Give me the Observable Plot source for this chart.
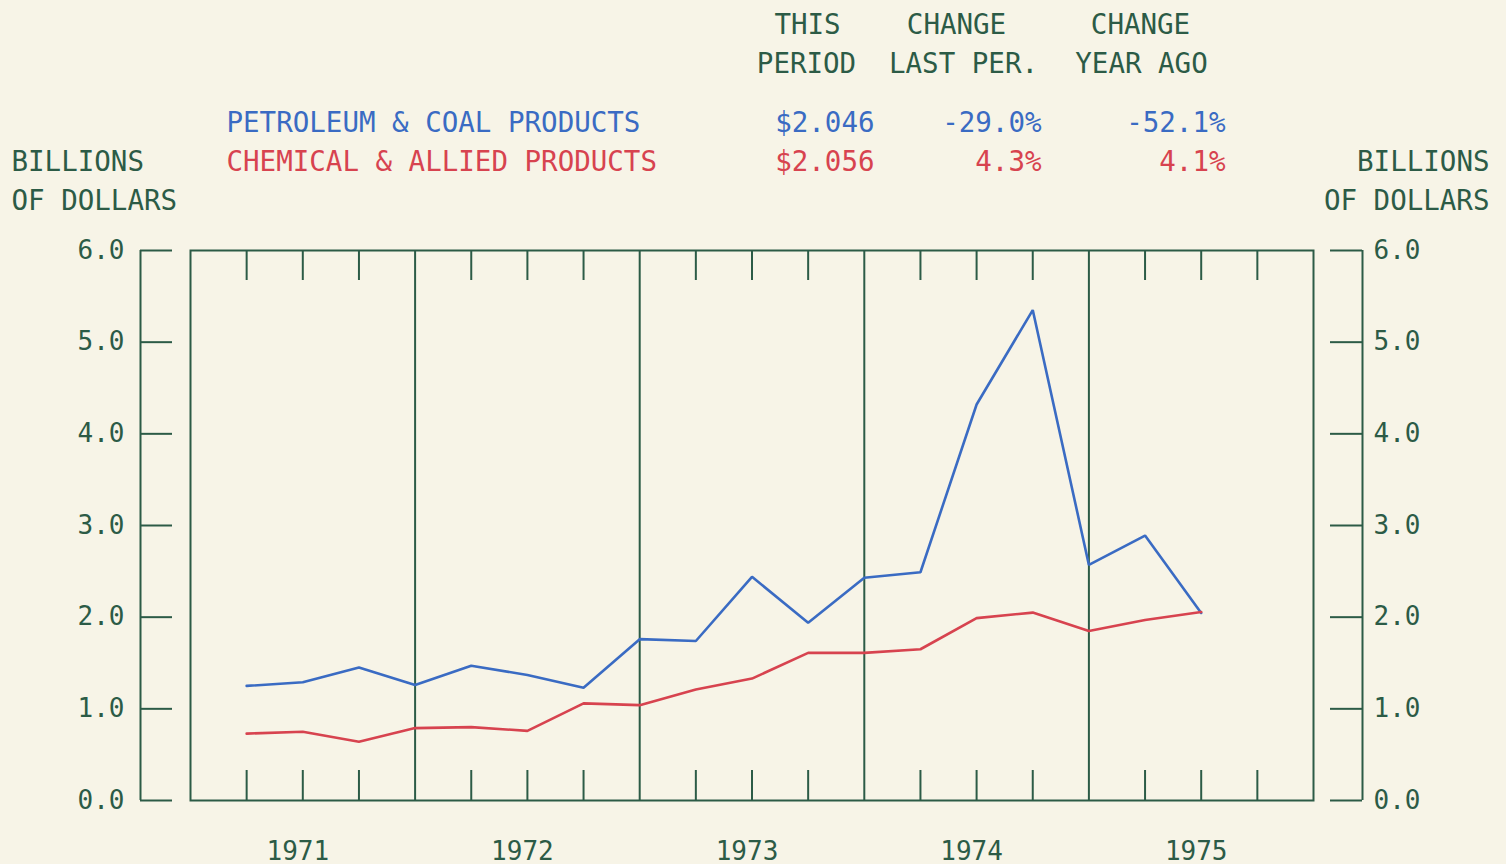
<!DOCTYPE html>
<html>
<head>
<meta charset="utf-8">
<script src="https://cdn.jsdelivr.net/npm/d3@7"></script>
<script src="https://cdn.jsdelivr.net/npm/@observablehq/plot@0.6"></script>
<style>
  html, body { margin: 0; padding: 0; background: #f7f4e7; }
  #chart { width: 1506px; height: 864px; }
</style>
</head>
<body>
<div id="chart"></div>
<script>
// ---- data ----
const quarters = ["1971 Q1","1971 Q2","1971 Q3","1971 Q4","1972 Q1","1972 Q2","1972 Q3","1972 Q4",
                  "1973 Q1","1973 Q2","1973 Q3","1973 Q4","1974 Q1","1974 Q2","1974 Q3","1974 Q4",
                  "1975 Q1","1975 Q2"];
const petroleum = [1.25, 1.29, 1.45, 1.26, 1.47, 1.37, 1.23, 1.76, 1.74, 2.44, 1.94, 2.43, 2.49, 4.32, 5.35, 2.57, 2.89, 2.046];
const chemical  = [0.73, 0.75, 0.64, 0.79, 0.80, 0.76, 1.06, 1.04, 1.21, 1.33, 1.61, 1.61, 1.65, 1.99, 2.05, 1.85, 1.97, 2.056];
const seriesNames = ["PETROLEUM & COAL PRODUCTS", "CHEMICAL & ALLIED PRODUCTS"];
const thisPeriod = ["$2.046", "$2.056"];
const changeLastPer = ["-29.0%", "4.3%"];
const changeYearAgo = ["-52.1%", "4.1%"];
const colHeadTop = ["THIS", "CHANGE", "CHANGE"];
const colHeadBottom = ["PERIOD", "LAST PER.", "YEAR AGO"];
const years = [1971, 1972, 1973, 1974, 1975];
const yTicks = [0, 1, 2, 3, 4, 5, 6];
const unitLabel = ["BILLIONS", "OF DOLLARS"];

// ---- styling ----
const GREEN = "#2c5b46";
const BLUE = "#3a6bc3";
const RED = "#d7434f";
const BG = "#f7f4e7";
const FONT = "'DejaVu Sans Mono', 'Liberation Mono', monospace";
const FS = 27.5;

// quarter-end position (end of quarter q of year y)
const qpos = s => { const [y, q] = s.split(" Q"); return +y + (+q) / 4; };
const rows = [];
quarters.forEach((q, i) => {
  rows.push({t: qpos(q), v: petroleum[i], s: seriesNames[0]});
  rows.push({t: qpos(q), v: chemical[i], s: seriesNames[1]});
});
const yearBounds = years.slice(1);
const quarterTicks = years.flatMap(y => [y + 0.25, y + 0.5, y + 0.75]);
const yearMids = years.map(y => y + 0.5);
const xDomain = [years[0], years[years.length - 1] + 1];

// frame top-left is at (190, 250)
const L = 190, T = 250;
const txt = (data, opts) => Plot.text(data, {frameAnchor: "top-left", text: d => d, lineAnchor: "middle",
  fontSize: FS, ...opts});

const plot = Plot.plot({
  width: 1506, height: 864,
  marginLeft: 190, marginRight: 193, marginTop: 250, marginBottom: 64,
  style: {background: BG, fontFamily: FONT, color: GREEN, overflow: "visible"},
  x: {domain: xDomain},
  y: {domain: [0, 6]},
  marks: [
    Plot.frame({stroke: GREEN, strokeWidth: 2}),
    Plot.ruleX(yearBounds, {x: d => d, stroke: GREEN, strokeWidth: 2}),
    Plot.ruleX(quarterTicks, {x: d => d, stroke: GREEN, strokeWidth: 2, insetBottom: 520}),
    Plot.ruleX(quarterTicks, {x: d => d, stroke: GREEN, strokeWidth: 2, insetTop: 520}),
    // left outer axis
    Plot.ruleX([xDomain[0]], {x: d => d, dx: -50, stroke: GREEN, strokeWidth: 2}),
    Plot.ruleY(yTicks, {y: d => d, dx: -50, insetRight: 1091, stroke: GREEN, strokeWidth: 2}),
    // right outer axis
    Plot.ruleX([xDomain[1]], {x: d => d, dx: 49, stroke: GREEN, strokeWidth: 2}),
    Plot.ruleY(yTicks, {y: d => d, dx: 49, insetLeft: 1091, stroke: GREEN, strokeWidth: 2}),
    Plot.axisY({anchor: "left", ticks: yTicks, tickSize: 0, tickPadding: 66, tickFormat: d3.format(".1f"),
      label: null, fontSize: 26, fill: GREEN}),
    Plot.axisY({anchor: "right", ticks: yTicks, tickSize: 0, tickPadding: 60, tickFormat: d3.format(".1f"),
      label: null, fontSize: 26, fill: GREEN}),
    Plot.axisX({anchor: "bottom", ticks: yearMids, tickSize: 0, tickPadding: 41, dx: -5,
      tickFormat: d => String(Math.floor(d)), label: null, fontSize: 26, fill: GREEN}),
    // data lines
    Plot.line(rows, {x: "t", y: "v", z: "s", stroke: d => d.s === seriesNames[0] ? BLUE : RED,
      strokeWidth: 2.6, strokeLinejoin: "miter"}),
    // header: unit labels
    txt([unitLabel[0]], {dx: 11 - L, dy: 162 - T, textAnchor: "start", fill: GREEN}),
    txt([unitLabel[1]], {dx: 11 - L, dy: 201 - T, textAnchor: "start", fill: GREEN}),
    txt([unitLabel[0]], {dx: 1489 - L, dy: 162 - T, textAnchor: "end", fill: GREEN}),
    txt([unitLabel[1]], {dx: 1489 - L, dy: 201 - T, textAnchor: "end", fill: GREEN}),
    // column heads
    txt([colHeadTop[0]], {dx: 807 - L, dy: 25 - T, textAnchor: "middle", fill: GREEN}),
    txt([colHeadBottom[0]], {dx: 806 - L, dy: 64 - T, textAnchor: "middle", fill: GREEN}),
    txt([colHeadTop[1]], {dx: 956 - L, dy: 25 - T, textAnchor: "middle", fill: GREEN}),
    txt([colHeadBottom[1]], {dx: 963 - L, dy: 64 - T, textAnchor: "middle", fill: GREEN}),
    txt([colHeadTop[2]], {dx: 1140 - L, dy: 25 - T, textAnchor: "middle", fill: GREEN}),
    txt([colHeadBottom[2]], {dx: 1141 - L, dy: 64 - T, textAnchor: "middle", fill: GREEN}),
    // series rows
    ...[0, 1].flatMap(i => {
      const col = i === 0 ? BLUE : RED;
      const yy = (i === 0 ? 123 : 162) - T;
      return [
        txt([seriesNames[i]], {dx: 226 - L, dy: yy, textAnchor: "start", fill: col}),
        txt([thisPeriod[i]], {dx: 874 - L, dy: yy, textAnchor: "end", fill: col}),
        txt([changeLastPer[i]], {dx: 1041 - L, dy: yy, textAnchor: "end", fill: col}),
        txt([changeYearAgo[i]], {dx: 1225 - L, dy: yy, textAnchor: "end", fill: col})
      ];
    })
  ]
});
document.getElementById("chart").appendChild(plot);
</script>
</body>
</html>
